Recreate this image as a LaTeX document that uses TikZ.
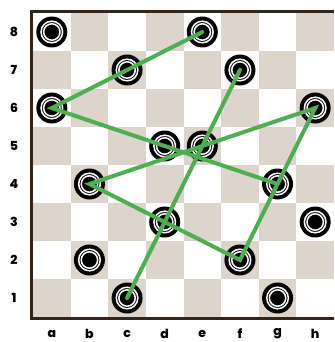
\documentclass[tikz,border=0pt]{standalone}
\usepackage{fontspec}
\setmainfont{Poppins}[BoldFont={* ExtraBold}]
\definecolor{darksq}{RGB}{221,213,204}
\definecolor{frame}{RGB}{52,36,26}
\definecolor{lineg}{RGB}{76,175,80}
\tikzset{
  piece/.style={circle,fill=black,inner sep=0pt,minimum size=31pt,
    path picture={
      \draw[white,line width=1.5pt] (path picture bounding box.center) circle[radius=10.8pt];
      \draw[white,line width=1.5pt] (path picture bounding box.center) circle[radius=8.2pt];
    }},
  lbl/.style={font=\fontsize{12.5}{14}\selectfont\bfseries,inner sep=0pt},
  move/.style={lineg,line width=4pt,line join=miter,line cap=round}
}
\begin{document}
\begin{tikzpicture}[x=1pt,y=-1pt]
\useasboundingbox (0,0) rectangle (334,342);
\fill[white] (0,0) rectangle (334,342);
% squares
\foreach \i in {0,...,7}{
  \foreach \j in {1,...,8}{
    \pgfmathtruncatemacro{\sqpar}{mod(\i+\j,2)}
    \ifnum\sqpar=1
      \fill[darksq] ({33+\i*37.625},{13+(8-\j)*38}) rectangle ({33+(\i+1)*37.625},{13+(9-\j)*38});
    \fi
  }
}
\draw[frame,line width=3pt] (334,11.5) -- (31.5,11.5) -- (31.5,318.5) -- (334,318.5);
% labels
\foreach \r in {1,...,8}{
  \node[lbl] (r\r) at (14,{13+(8.5-\r)*38}) {\r};
}
\foreach \c [count=\k from 0] in {a,b,c,d,e,f,g,h}{
  \node[lbl] (l\c) at ({33+(\k+0.5)*37.625},334) {\c};
}
% pieces
\foreach \s/\i/\j in {a/0/8,e/4/8,c/2/7,f/5/7,a/0/6,h/7/6,d/3/5,e/4/5,b/1/4,g/6/4,d/3/3,h/7/3,b/1/2,f/5/2,c/2/1,g/6/1}{
  \node[piece] (\s\j) at ({33+(\i+0.5)*37.625},{13+(8.5-\j)*38}) {};
}
% moves
\draw[move] (e8.center) -- (a6.center) -- (g4.center);
\draw[move] (h6.center) -- (b4.center) -- (f2.center) -- cycle;
\draw[move] (f7.center) -- (c1.center);
\end{tikzpicture}
\end{document}
